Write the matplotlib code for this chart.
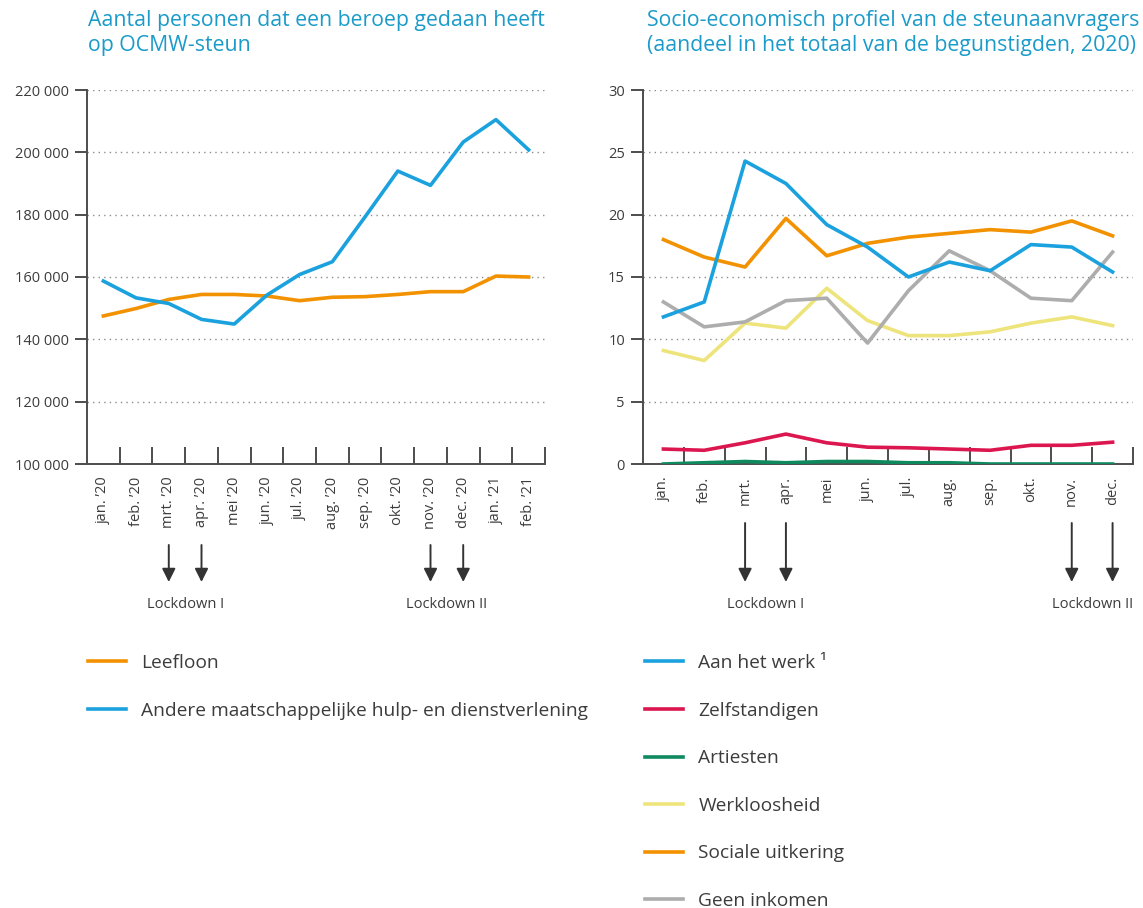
import matplotlib
matplotlib.use("Agg")
import matplotlib.pyplot as plt
import numpy as np

plt.rcParams['font.family'] = ['Open Sans', 'DejaVu Sans']

TITLE_C = '#1a9bc9'
TEXT_C = '#3c3c3c'
AXIS_C = '#4d4d4d'

# left panel: number of people per month
months_left = ['jan. ’20', 'feb. ’20', 'mrt. ’20', 'apr. ’20', 'mei ’20', 'jun. ’20', 'jul. ’20',
               'aug. ’20', 'sep. ’20', 'okt. ’20', 'nov. ’20', 'dec. ’20', 'jan. ’21', 'feb. ’21']
leefloon = [147500, 149900, 152800, 154400, 154400, 153900, 152400,
            153500, 153700, 154400, 155300, 155300, 160300, 160000]
andere = [158700, 153300, 151500, 146400, 144900, 154200, 160800,
          164900, 179300, 194000, 189400, 203300, 210500, 200800]
left_ticks = [100000, 120000, 140000, 160000, 180000, 200000, 220000]

# right panel: profile shares 2020 (%)
months_right = ['jan.', 'feb.', 'mrt.', 'apr.', 'mei', 'jun.', 'jul.', 'aug.', 'sep.', 'okt.', 'nov.', 'dec.']
aan_het_werk = [11.8, 13.0, 24.3, 22.5, 19.2, 17.4, 15.0, 16.2, 15.5, 17.6, 17.4, 15.4]
zelfstandigen = [1.2, 1.1, 1.7, 2.4, 1.7, 1.35, 1.3, 1.2, 1.1, 1.5, 1.5, 1.75]
artiesten = [0.0, 0.1, 0.2, 0.1, 0.2, 0.2, 0.1, 0.1, 0.0, 0.0, 0.0, 0.0]
werkloosheid = [9.1, 8.3, 11.3, 10.9, 14.1, 11.5, 10.3, 10.3, 10.6, 11.3, 11.8, 11.1]
sociale = [18.0, 16.6, 15.8, 19.7, 16.7, 17.7, 18.2, 18.5, 18.8, 18.6, 19.5, 18.3]
geen_inkomen = [13.0, 11.0, 11.4, 13.1, 13.3, 9.7, 13.9, 17.1, 15.5, 13.3, 13.1, 17.0]
right_ticks = [0, 5, 10, 15, 20, 25, 30]

lockdown1 = ['mrt.', 'apr.']
lockdown2 = ['nov.', 'dec.']

W, H = 1143, 908
fig = plt.figure(figsize=(W / 100, H / 100), dpi=100)


def px(x0, y0, x1, y1):
    return [x0 / W, 1 - y1 / H, (x1 - x0) / W, (y1 - y0) / H]


def style_axes(ax, n, yticks, fmt):
    ax.set_xlim(-0.5, n - 0.5)
    ax.set_ylim(yticks[0], yticks[-1])
    for s in ['top', 'right']:
        ax.spines[s].set_visible(False)
    for s in ['left', 'bottom']:
        ax.spines[s].set_color(AXIS_C)
        ax.spines[s].set_linewidth(1.4)
    ax.set_yticks(yticks)
    ax.set_yticklabels([fmt(v) for v in yticks])
    ax.tick_params(axis='y', length=9, width=1.4, color=AXIS_C, labelsize=10.5,
                   labelcolor=TEXT_C, pad=4)
    for v in yticks[1:]:
        ax.axhline(v, color='#8c8c8c', lw=1.0, ls=(0, (1, 3)), zorder=1)
    # category boundaries as inward ticks, labels on the centres
    ax.set_xticks(np.arange(n) + 0.5)
    ax.set_xticklabels([])
    ax.tick_params(axis='x', which='major', direction='in', length=12, width=1.4, color=AXIS_C)
    ax.set_xticks(np.arange(n), minor=True)
    ax.tick_params(axis='x', which='minor', length=0, labelsize=10.5, labelcolor=TEXT_C,
                   pad=9, labelrotation=90)


def lockdown_arrows(ax, labels, names, y_start, y_end, y_text):
    for group, name in zip(labels, names):
        idx = [names_idx[m] for m in group]
        for i in idx:
            ax.annotate('', xy=(i, 1 - y_end / H), xytext=(i, 1 - y_start / H),
                        xycoords=('data', 'figure fraction'),
                        textcoords=('data', 'figure fraction'),
                        arrowprops=dict(arrowstyle='-|>', color='#333333', lw=1.4,
                                        mutation_scale=20, shrinkA=0, shrinkB=0),
                        annotation_clip=False)
        ax.annotate(name, xy=(np.mean(idx), 1 - y_text / H),
                    xycoords=('data', 'figure fraction'), ha='center', va='center',
                    fontsize=10.5, color=TEXT_C, annotation_clip=False)


legend_kw = dict(loc='upper left', bbox_transform=fig.transFigure, frameon=False,
                 fontsize=13.75, labelcolor=TEXT_C, handlelength=2.0, handletextpad=0.8,
                 labelspacing=1.55, borderpad=0, borderaxespad=0)

# ---- left panel
ax1 = fig.add_axes(px(87, 90, 545, 464))
x1 = np.arange(len(months_left))
l_leef, = ax1.plot(x1, leefloon, color='#f39200', lw=2.6, label='Leefloon', zorder=3)
l_and, = ax1.plot(x1, andere, color='#1ba2de', lw=2.6,
                  label='Andere maatschappelijke hulp- en dienstverlening', zorder=3)
style_axes(ax1, len(months_left), left_ticks, lambda v: f'{v:,}'.replace(',', ' '))
ax1.set_xticklabels(months_left, minor=True)
names_idx = {m.split()[0]: i for i, m in enumerate(months_left)}
lockdown_arrows(ax1, [lockdown1, lockdown2], ['Lockdown I', 'Lockdown II'], 545, 582, 605)
ax1.legend(handles=[l_leef, l_and], bbox_to_anchor=(88 / W, 1 - 654 / H), **legend_kw)
fig.text(88 / W, 1 - 10 / H, 'Aantal personen dat een beroep gedaan heeft\nop OCMW-steun',
         ha='left', va='top', fontsize=15.3, color=TITLE_C, linespacing=1.28)

# ---- right panel
ax2 = fig.add_axes(px(643, 90, 1133, 464))
x2 = np.arange(len(months_right))
series = [
    ('Aan het werk ¹', aan_het_werk, '#1ba2de'),
    ('Zelfstandigen', zelfstandigen, '#dc1750'),
    ('Artiesten', artiesten, '#0f8a5f'),
    ('Werkloosheid', werkloosheid, '#eee47c'),
    ('Sociale uitkering', sociale, '#f39200'),
    ('Geen inkomen', geen_inkomen, '#adadad'),
]
handles = []
draw_order = [3, 5, 4, 0, 1, 2]
for k in draw_order:
    name, vals, col = series[k]
    ln, = ax2.plot(x2, vals, color=col, lw=2.6, label=name, zorder=3 + draw_order.index(k) * 0.1)
    handles.append((k, ln))
handles = [h for _, h in sorted(handles, key=lambda t: t[0])]
style_axes(ax2, len(months_right), right_ticks, lambda v: f'{v}')
ax2.set_xticklabels(months_right, minor=True)
names_idx = {m: i for i, m in enumerate(months_right)}
lockdown_arrows(ax2, [lockdown1, lockdown2], ['Lockdown I', 'Lockdown II'], 523, 582, 605)
ax2.legend(handles=handles, bbox_to_anchor=(645 / W, 1 - 654 / H), **legend_kw)
fig.text(647 / W, 1 - 10 / H,
         'Socio-economisch profiel van de steunaanvragers\n(aandeel in het totaal van de begunstigden, 2020)',
         ha='left', va='top', fontsize=15.3, color=TITLE_C, linespacing=1.28)

fig.savefig('out.png', dpi=100)
